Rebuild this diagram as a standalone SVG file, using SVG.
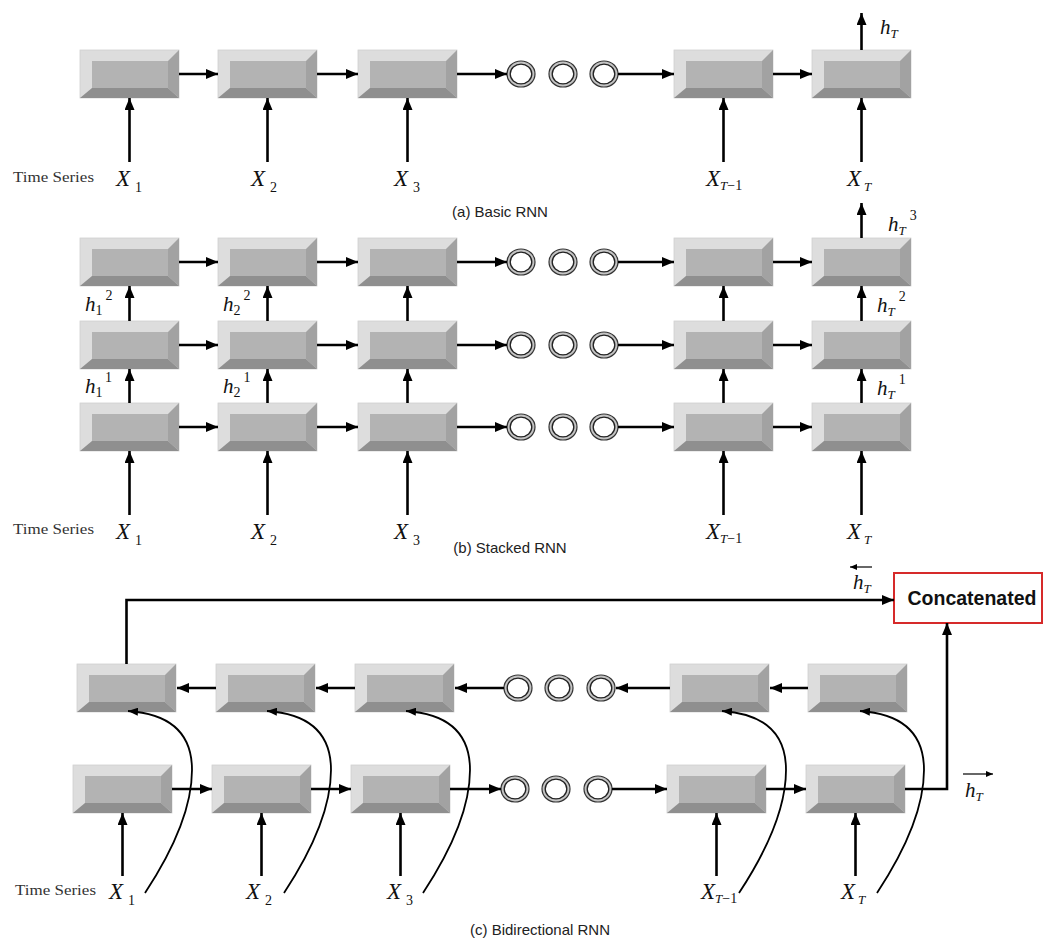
<svg xmlns="http://www.w3.org/2000/svg" xmlns:xlink="http://www.w3.org/1999/xlink" width="1043" height="941" viewBox="0 0 1043 941">
<style>
.ln{stroke:#000;stroke-width:2.6;fill:none}
.cv{stroke:#000;stroke-width:1.8;fill:none}
.th{stroke:#000;stroke-width:1.2;fill:none}
.ser{font-family:"Liberation Serif","Times New Roman",serif;fill:#111}
.it{font-style:italic}
.ts{font-family:"Liberation Serif",serif;font-size:15px;fill:#333}
.cap{font-family:"Liberation Sans",Arial,sans-serif;font-size:15px;fill:#222}
.X{font-size:23px}
.sub{font-size:14px;font-style:normal}
.subi{font-size:13px;font-style:italic}
.h{font-size:21px}
</style>
<defs>
<marker id="ah" viewBox="0 0 12 10" refX="12" refY="5" markerWidth="12" markerHeight="10" markerUnits="userSpaceOnUse" orient="auto"><path d="M0,0 L12,5 L0,10 z" fill="#000"/></marker>
<marker id="ahs" viewBox="0 0 10 8" refX="10" refY="4" markerWidth="10" markerHeight="8" markerUnits="userSpaceOnUse" orient="auto"><path d="M0,0 L10,4 L0,8 z" fill="#000"/></marker>
<marker id="aht" viewBox="0 0 7 6" refX="7" refY="3" markerWidth="7" markerHeight="6" markerUnits="userSpaceOnUse" orient="auto"><path d="M0,0 L7,3 L0,6 z" fill="#000"/></marker>
<g id="bx">
<rect x="0" y="0" width="99" height="48" fill="#dddddd" stroke="#d0d0d0" stroke-width="0.8"/>
<polygon points="99,0 99,48 88,38 88,11" fill="#a2a2a2"/>
<polygon points="0,48 99,48 88,38 12,38" fill="#8f8f8f"/>
<rect x="12" y="11" width="76" height="27" fill="#b3b3b3"/>
</g>
<g id="ring">
<ellipse cx="0" cy="0" rx="14" ry="13" fill="#c4c4c4" stroke="#333" stroke-width="1.2"/>
<ellipse cx="0" cy="0" rx="10.8" ry="9.8" fill="#fff" stroke="#222" stroke-width="1.3"/>
</g>
</defs>
<rect width="1043" height="941" fill="#fff"/>

<!-- (a) Basic RNN -->
<g id="a-nodes">
<g id="a1"><use href="#bx" x="80" y="50"/></g>
<g id="a2"><use href="#bx" x="218" y="50"/></g>
<g id="a3"><use href="#bx" x="358" y="50"/></g>
<g id="a-dots"><use href="#ring" x="521" y="74"/><use href="#ring" x="563" y="74"/><use href="#ring" x="604" y="74"/></g>
<g id="a4"><use href="#bx" x="674" y="50"/></g>
<g id="a5"><use href="#bx" x="812" y="50"/></g>
</g>
<g id="a-connectors">
<path class="ln" d="M179,74 H218" marker-end="url(#ah)"/>
<path class="ln" d="M317,74 H358" marker-end="url(#ah)"/>
<path class="ln" d="M457,74 H507" marker-end="url(#ah)"/>
<path class="ln" d="M618,74 H674" marker-end="url(#ah)"/>
<path class="ln" d="M773,74 H812" marker-end="url(#ah)"/>
<path class="ln" d="M129.5,162 V98" marker-end="url(#ah)"/>
<path class="ln" d="M267.5,162 V98" marker-end="url(#ah)"/>
<path class="ln" d="M407.5,162 V98" marker-end="url(#ah)"/>
<path class="ln" d="M723.5,162 V98" marker-end="url(#ah)"/>
<path class="ln" d="M861.5,162 V98" marker-end="url(#ah)"/>
<path class="ln" d="M861.5,50 V13" marker-end="url(#ah)"/>
</g>
<g id="a-labels">
<text class="ts" x="13" y="182" textLength="81" lengthAdjust="spacingAndGlyphs">Time Series</text>
<text class="ser it X" x="116" y="186">X<tspan class="sub" dx="5" dy="6">1</tspan></text>
<text class="ser it X" x="251" y="186">X<tspan class="sub" dx="5" dy="6">2</tspan></text>
<text class="ser it X" x="394" y="186">X<tspan class="sub" dx="5" dy="6">3</tspan></text>
<text class="ser it X" x="706" y="186">X<tspan class="subi" dx="0" dy="4">T</tspan><tspan class="sub" dy="0">−1</tspan></text>
<text class="ser it X" x="847" y="186">X<tspan class="subi" dx="3" dy="5">T</tspan></text>
<text class="ser it h" x="880" y="34">h<tspan class="subi" dy="4">T</tspan></text>
<text class="cap" x="500" y="217" text-anchor="middle">(a) Basic RNN</text>
</g>

<!-- (b) Stacked RNN -->
<g id="b-nodes">
<g id="b31"><use href="#bx" x="80" y="238"/></g>
<g id="b32"><use href="#bx" x="218" y="238"/></g>
<g id="b33"><use href="#bx" x="358" y="238"/></g>
<g id="b3-dots"><use href="#ring" x="521" y="262"/><use href="#ring" x="563" y="262"/><use href="#ring" x="604" y="262"/></g>
<g id="b34"><use href="#bx" x="674" y="238"/></g>
<g id="b35"><use href="#bx" x="812" y="238"/></g>
<g id="b21"><use href="#bx" x="80" y="321"/></g>
<g id="b22"><use href="#bx" x="218" y="321"/></g>
<g id="b23"><use href="#bx" x="358" y="321"/></g>
<g id="b2-dots"><use href="#ring" x="521" y="345"/><use href="#ring" x="563" y="345"/><use href="#ring" x="604" y="345"/></g>
<g id="b24"><use href="#bx" x="674" y="321"/></g>
<g id="b25"><use href="#bx" x="812" y="321"/></g>
<g id="b11"><use href="#bx" x="80" y="403"/></g>
<g id="b12"><use href="#bx" x="218" y="403"/></g>
<g id="b13"><use href="#bx" x="358" y="403"/></g>
<g id="b1-dots"><use href="#ring" x="521" y="427"/><use href="#ring" x="563" y="427"/><use href="#ring" x="604" y="427"/></g>
<g id="b14"><use href="#bx" x="674" y="403"/></g>
<g id="b15"><use href="#bx" x="812" y="403"/></g>
</g>
<g id="b-connectors">
<path class="ln" d="M179,262 H218" marker-end="url(#ah)"/>
<path class="ln" d="M317,262 H358" marker-end="url(#ah)"/>
<path class="ln" d="M457,262 H507" marker-end="url(#ah)"/>
<path class="ln" d="M618,262 H674" marker-end="url(#ah)"/>
<path class="ln" d="M773,262 H812" marker-end="url(#ah)"/>
<path class="ln" d="M179,345 H218" marker-end="url(#ah)"/>
<path class="ln" d="M317,345 H358" marker-end="url(#ah)"/>
<path class="ln" d="M457,345 H507" marker-end="url(#ah)"/>
<path class="ln" d="M618,345 H674" marker-end="url(#ah)"/>
<path class="ln" d="M773,345 H812" marker-end="url(#ah)"/>
<path class="ln" d="M179,427 H218" marker-end="url(#ah)"/>
<path class="ln" d="M317,427 H358" marker-end="url(#ah)"/>
<path class="ln" d="M457,427 H507" marker-end="url(#ah)"/>
<path class="ln" d="M618,427 H674" marker-end="url(#ah)"/>
<path class="ln" d="M773,427 H812" marker-end="url(#ah)"/>
<path class="ln" d="M129.5,321 V286" marker-end="url(#ah)"/>
<path class="ln" d="M267.5,321 V286" marker-end="url(#ah)"/>
<path class="ln" d="M407.5,321 V286" marker-end="url(#ah)"/>
<path class="ln" d="M723.5,321 V286" marker-end="url(#ah)"/>
<path class="ln" d="M861.5,321 V286" marker-end="url(#ah)"/>
<path class="ln" d="M129.5,403 V369" marker-end="url(#ah)"/>
<path class="ln" d="M267.5,403 V369" marker-end="url(#ah)"/>
<path class="ln" d="M407.5,403 V369" marker-end="url(#ah)"/>
<path class="ln" d="M723.5,403 V369" marker-end="url(#ah)"/>
<path class="ln" d="M861.5,403 V369" marker-end="url(#ah)"/>
<path class="ln" d="M129.5,515 V451" marker-end="url(#ah)"/>
<path class="ln" d="M267.5,515 V451" marker-end="url(#ah)"/>
<path class="ln" d="M407.5,515 V451" marker-end="url(#ah)"/>
<path class="ln" d="M723.5,515 V451" marker-end="url(#ah)"/>
<path class="ln" d="M861.5,515 V451" marker-end="url(#ah)"/>
<path class="ln" d="M861.5,238 V203" marker-end="url(#ah)"/>
</g>
<g id="b-labels">
<text class="ser it h" x="85" y="311">h<tspan class="sub" dy="4">1</tspan><tspan class="sub" dx="3" dy="-15">2</tspan></text>
<text class="ser it h" x="223" y="311">h<tspan class="sub" dy="4">2</tspan><tspan class="sub" dx="3" dy="-15">2</tspan></text>
<text class="ser it h" x="85" y="393">h<tspan class="sub" dy="4">1</tspan><tspan class="sub" dx="3" dy="-15">1</tspan></text>
<text class="ser it h" x="223" y="393">h<tspan class="sub" dy="4">2</tspan><tspan class="sub" dx="3" dy="-15">1</tspan></text>
<text class="ser it h" x="888" y="231">h<tspan class="subi" dy="4">T</tspan><tspan class="sub" dx="4" dy="-15">3</tspan></text>
<text class="ser it h" x="877" y="312">h<tspan class="subi" dy="4">T</tspan><tspan class="sub" dx="4" dy="-15">2</tspan></text>
<text class="ser it h" x="877" y="395">h<tspan class="subi" dy="4">T</tspan><tspan class="sub" dx="4" dy="-15">1</tspan></text>
<text class="ts" x="13" y="534" textLength="81" lengthAdjust="spacingAndGlyphs">Time Series</text>
<text class="ser it X" x="116" y="539">X<tspan class="sub" dx="5" dy="6">1</tspan></text>
<text class="ser it X" x="251" y="539">X<tspan class="sub" dx="5" dy="6">2</tspan></text>
<text class="ser it X" x="394" y="539">X<tspan class="sub" dx="5" dy="6">3</tspan></text>
<text class="ser it X" x="706" y="539">X<tspan class="subi" dx="0" dy="4">T</tspan><tspan class="sub" dy="0">−1</tspan></text>
<text class="ser it X" x="847" y="539">X<tspan class="subi" dx="3" dy="5">T</tspan></text>
<text class="cap" x="510" y="553" text-anchor="middle">(b) Stacked RNN</text>
</g>

<!-- (c) Bidirectional RNN -->
<g id="c-nodes">
<g id="cb1"><use href="#bx" x="77" y="664"/></g>
<g id="cb2"><use href="#bx" x="216" y="664"/></g>
<g id="cb3"><use href="#bx" x="355" y="664"/></g>
<g id="cb-dots"><use href="#ring" x="518" y="688"/><use href="#ring" x="559" y="688"/><use href="#ring" x="601" y="688"/></g>
<g id="cb4"><use href="#bx" x="670" y="664"/></g>
<g id="cb5"><use href="#bx" x="808" y="664"/></g>
<g id="cf1"><use href="#bx" x="73" y="765"/></g>
<g id="cf2"><use href="#bx" x="212" y="765"/></g>
<g id="cf3"><use href="#bx" x="351" y="765"/></g>
<g id="cf-dots"><use href="#ring" x="515" y="789"/><use href="#ring" x="556" y="789"/><use href="#ring" x="598" y="789"/></g>
<g id="cf4"><use href="#bx" x="667" y="765"/></g>
<g id="cf5"><use href="#bx" x="806" y="765"/></g>
<g id="concat">
<rect x="894" y="573" width="148" height="50" fill="#fff" stroke="#d62a2a" stroke-width="2"/>
<text x="972" y="605" text-anchor="middle" font-family="'Liberation Sans',Arial,sans-serif" font-weight="bold" font-size="19.5" fill="#111">Concatenated</text>
</g>
</g>
<g id="c-connectors">
<path class="ln" d="M216,688 H177" marker-end="url(#ah)"/>
<path class="ln" d="M355,688 H316" marker-end="url(#ah)"/>
<path class="ln" d="M504,688 H455" marker-end="url(#ah)"/>
<path class="ln" d="M670,688 H616" marker-end="url(#ah)"/>
<path class="ln" d="M808,688 H770" marker-end="url(#ah)"/>
<path class="ln" d="M172,789 H212" marker-end="url(#ah)"/>
<path class="ln" d="M311,789 H351" marker-end="url(#ah)"/>
<path class="ln" d="M450,789 H501" marker-end="url(#ah)"/>
<path class="ln" d="M612,789 H667" marker-end="url(#ah)"/>
<path class="ln" d="M766,789 H806" marker-end="url(#ah)"/>
<path class="ln" d="M126.5,664 V600 H894" marker-end="url(#ah)"/>
<path class="ln" d="M905,789 H947 V623" marker-end="url(#ah)"/>
<path class="ln" d="M122.5,876 V813" marker-end="url(#ah)"/>
<path class="ln" d="M261.5,876 V813" marker-end="url(#ah)"/>
<path class="ln" d="M400.5,876 V813" marker-end="url(#ah)"/>
<path class="ln" d="M716.5,876 V813" marker-end="url(#ah)"/>
<path class="ln" d="M855.5,876 V813" marker-end="url(#ah)"/>
<path class="cv" d="M145,893 C170,855 192,810 192,770 C192,735 172,714 128,711" marker-end="url(#ahs)"/>
<path class="cv" d="M284,893 C309,855 331,810 331,770 C331,735 311,714 267,711" marker-end="url(#ahs)"/>
<path class="cv" d="M423,893 C448,855 470,810 470,770 C470,735 450,714 406,711" marker-end="url(#ahs)"/>
<path class="cv" d="M739,893 C764,855 786,810 786,770 C786,735 766,714 722,711" marker-end="url(#ahs)"/>
<path class="cv" d="M877,893 C902,855 924,810 924,770 C924,735 904,714 860,711" marker-end="url(#ahs)"/>
</g>
<g id="c-labels">
<path class="th" d="M872,567 H850" marker-end="url(#aht)"/>
<text class="ser it h" x="853" y="589">h<tspan class="subi" dy="4">T</tspan></text>
<path class="th" d="M963,774 H993" marker-end="url(#aht)"/>
<text class="ser it h" x="965" y="797">h<tspan class="subi" dy="4">T</tspan></text>
<text class="ts" x="15" y="895" textLength="81" lengthAdjust="spacingAndGlyphs">Time Series</text>
<text class="ser it X" x="109" y="899">X<tspan class="sub" dx="5" dy="6">1</tspan></text>
<text class="ser it X" x="246" y="899">X<tspan class="sub" dx="5" dy="6">2</tspan></text>
<text class="ser it X" x="387" y="899">X<tspan class="sub" dx="5" dy="6">3</tspan></text>
<text class="ser it X" x="701" y="899">X<tspan class="subi" dx="0" dy="4">T</tspan><tspan class="sub" dy="0">−1</tspan></text>
<text class="ser it X" x="841" y="899">X<tspan class="subi" dx="3" dy="5">T</tspan></text>
<text class="cap" x="540" y="935" text-anchor="middle">(c) Bidirectional RNN</text>
</g>
</svg>
